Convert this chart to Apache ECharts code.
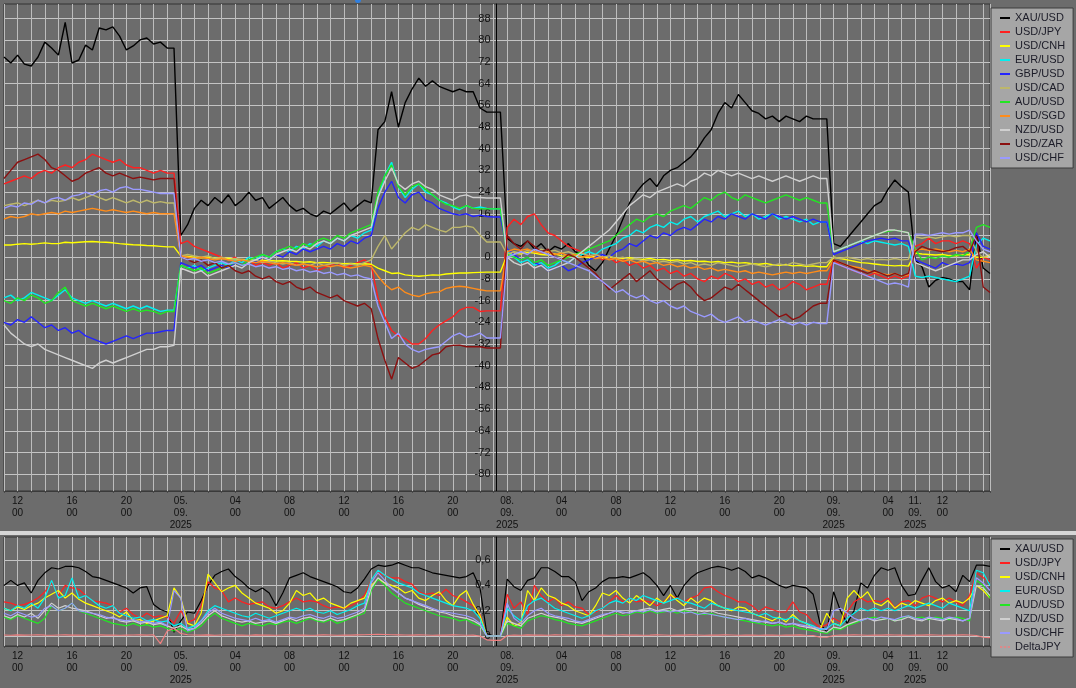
<!DOCTYPE html>
<html><head><meta charset="utf-8">
<script src="https://cdn.jsdelivr.net/npm/echarts@6/dist/echarts.min.js"></script>
<style>html,body{margin:0;padding:0;background:#6c6c6c;}#c{width:1076px;height:688px;}</style>
</head><body><div id="c"></div>
<script>
// ---- x axis: 146 half-hour slots (sessions 04.09 .. 11.09) ----
const slotCount = 146;
const tickIndex = [2,10,18,26,34,42,50,58,66,74,82,90,98,106,114,122,130,134,138];
const tickText = ['12\n00','16\n00','20\n00','05.\n09.\n2025','04\n00','08\n00','12\n00','16\n00','20\n00',
  '08.\n09.\n2025','04\n00','08\n00','12\n00','16\n00','20\n00','09.\n09.\n2025','04\n00','11.\n09.\n2025','12\n00'];
const topTicks = [88,80,72,64,56,48,40,32,24,16,8,0,-8,-16,-24,-32,-40,-48,-56,-64,-72,-80];
const bottomTicks = [0,0.2,0.4,0.6];

// ---- top panel series ----
const xau = [73.8,71.6,74.5,71.2,70.5,73.8,79.3,77.1,74.5,86.6,71.6,72.7,78.2,76.4,84.5,83.8,84.9,81.5,76.4,77.9,80.1,80.8,78.6,79.3,77.1,77.1,
 8,12,18,21,19,22,20,23,19,21,24,21,22,18,20,22,19,17,18,16,15,17,16,18,20,17,19,21,20,47,50,61,48,57,62,66,63,65,63,62,61,62,61,61,55,53.5,53.5,53.5,
 7,5,4,6,3,5,2,4,3,5,2,1,-3,-5,-2,3,8,14,20,24,27,29,26,30,32,33,35,37,40,44,47,53,57,55,60,57,54,53,51,52,50,52,51,50,52,51,51,51,
 5,4,7,10,13,16,19,20.5,25,28.5,26,24,
 -1,-3.5,-11,-8.5,-7.5,-8,-9,-9,-12,9,-4,-6];
const usdjpy = [27,28,29,30,29,31,32,31,33,34,33,35,36,38,37,36,35,36,34,33,33,32,31,32,31,31,
 5,6,4,3,2,1,0,-1,0,-2,-1,-3,-2,-3,-2,-4,-3,-2,-4,-3,-5,-4,-3,-2,-4,-3,-2,-1,-3,-15,-22,-27,-29,-30,-32,-32,-30,-27,-25,-23.5,-22,-19.5,-18.5,-18.5,-20,-19.8,-19.8,-19.8,
 11,14,12,15,16,12,9,8,6,4,3,2,0,1,-1,0,-2,-1,-3,-2,-4,-3,-5,-4,-6,-5,-7,-6,-8,-9,-7,-8,-6,-7,-9,-8,-10,-9,-11,-10,-12,-11,-9,-10,-12,-11,-10,-10,
 -1,-3,-4,-5,-6,-7,-6,-7,-8,-7,-8,-7,
 4,5,7,5,6,6,5,6,5,-4,0,-1];
const usdcnh = [4.5,4.5,4.8,5,4.8,5,5.3,5,5,5.5,5.3,5.5,5.7,5.8,5.6,5.5,5.3,5,4.8,4.6,4.5,4.3,4.2,4,3.8,3.8,
 0.5,0.3,0,-0.2,0,-0.3,-0.5,-0.4,-0.7,-0.8,-1,-0.9,-1.1,-1.2,-1.4,-1.3,-1.5,-1.6,-1.8,-1.7,-2,-1.9,-2.1,-2.2,-2.4,-2.3,-2.5,-2.4,-2.6,-4,-5,-6,-5.8,-6.5,-6.8,-7,-6.8,-6.5,-6.6,-6.2,-6,-5.8,-5.8,-5.7,-5.6,-5.5,-5.5,-5.5,
 1,1.5,1.2,1.8,1.5,1,0.8,1.2,0.5,0.3,0.6,0.2,0,0.3,-0.2,0,-0.3,-0.5,-0.2,-0.6,-0.8,-0.5,-1,-0.8,-1.2,-1,-1.4,-1.2,-1.6,-1.5,-1.8,-1.6,-2,-1.8,-2.2,-2,-2.4,-2.6,-2.3,-2.8,-3,-2.7,-3.2,-3,-3.4,-3.2,-3.5,-3.5,
 0,-0.5,-1,-1.5,-2,-2.2,-2.5,-2.8,-3,-3.2,-3,-3.3,
 1.5,1.2,1,0.8,1,0.6,0.5,0.8,1,0,0,0.5];
const eurusd = [-15,-14,-16,-15,-13,-14,-15,-16,-14,-12,-15,-16,-17,-16,-17,-18,-17,-18,-19,-18,-19,-18,-19,-20,-19.5,-19.5,
 -3,-4,-3,-5,-4,-3,-2,-3,-1,-2,0,-1,1,0,2,3,2,4,3,5,4,6,5,7,6,8,7,9,10,22,30,35,26,22,25,27,24,23,21,20,18.5,17.5,19,18,18.5,18,17.8,17.8,
 2,0,-2,-1,-3,-2,-4,-3,-1,-2,0,1,2,1,3,4,5,7,8,10,9,11,12,11,13,12,14,15,13,15,16,17,15,16,17,15,16,14,15,16,14,15,14,13,14,12,13,13,
 2,3,4,5,6,5,6,5.5,5,4.5,5,4,
 -7,-7.5,-7,-7.5,-8,-8.5,-9,-8,-7,4.5,7,6];
const gbpusd = [-24,-25,-23,-24,-22,-24,-26,-25,-27,-26,-28,-27,-29,-30,-31,-32,-31,-30,-29,-30,-29,-28,-28,-27.5,-27,-27,
 -2,-3,-4,-3,-5,-4,-3,-4,-2,-3,-1,-2,0,-1,1,0,2,1,3,2,3,4,3,5,4,6,5,7,8,18,24,28,22,20,23,24,21,20,18,17,16,15.5,16,15,15.5,15,14.8,14.8,
 3,1,-1,0,-2,-3,-5,-4,-3,-5,-4,-2,-1,0,1,0,2,3,5,4,6,8,7,9,8,10,11,10,12,14,13,15,14,16,15,14,16,15,14,16,15,14,15,14,13,14,13,13,
 1,2,3,4,5,6,6.5,7,6.5,7,6,6,
 -1,-2,-3,-4,-2,-3,-2.5,-3,-2,9,4,3];
const usdcad = [19,19.5,20,19,20,21,20,21,20.5,21,22,21,22,23,22,21,22,21,20,21,20,21,20,20.5,20,20,
 0.5,1,0.5,0,0.5,-0.5,0,-1,-0.5,-1,-1.5,-1,-2,-1.5,-2,-2.5,-2,-3,-2.5,-3,-2,-3,-2.5,-2,-3,-2.5,-3,-2,-1,4,8,3,6,9,11,10,12,11,10,9.3,11,11,11.5,11,8.2,5.6,5.6,5.6,
 1,2,1.5,2.5,2,3,2,2.5,1.5,2,1,1.5,0.5,1,0,0.5,-0.5,0,-1,-0.5,-1.5,-1,-2,-1.5,-2,-1.5,-2.5,-2,-3,-2.5,-3,-2,-2.5,-3,-3.5,-3,-2.5,-3,-3.5,-3,-2.5,-3,-2,-2.5,-3,-2.5,-2,-2,
 0,-0.5,0,-0.5,-1,-0.5,-1,-0.8,-1,-0.5,-1,-0.8,
 7.5,7,7.5,7,7.5,8,7.5,8,8,2,0,1];
const audusd = [-16,-17,-15,-16,-14,-15,-17,-16,-13,-11,-16,-17,-18,-17,-18,-19,-18,-19,-20,-19,-20,-19.5,-20,-21,-20,-20,
 -3,-4,-5,-4,-6,-5,-4,-3,-2,-3,-1,0,1,0,2,3,4,3,5,4,6,7,6,8,7,9,10,11,12,24,30,34,26,23,26,27,25,23,21,19.5,19,18,19,18,17.8,17.8,17.8,17.8,
 1,0,-1,0,-2,-1,-3,-2,-1,0,1,2,3,4,5,6,8,10,12,14,13,15,16,15,17,18,19,18,20,22,21,23,24,22,21,23,22,21,20,21,22,23,22,21,22,21,20,20,
 2,3,4,5,6,7,8,9,9.5,10,9.5,9,
 3,-1,0,-0.5,0.5,0,1,0.5,2,11,12,11];
const usdsgd = [14,15,14.5,15,16,15.5,16,16.5,16,17,16.5,17,17.5,18,17.5,17,17.5,17,16.5,17,16.5,16,16.5,16,16,16,
 0.5,0,-0.5,0,-0.5,-1,-0.5,-1,-1.5,-1,-1.5,-2,-1.5,-2,-2.5,-2,-2.5,-3,-2.5,-3,-3.5,-3,-3.5,-3,-3.5,-4,-3.5,-3,-3.5,-7,-10,-12,-11,-13,-14,-14.5,-13.5,-13,-12.8,-11.5,-11,-10.7,-11,-11.5,-12,-12.4,-12.4,-12.4,
 2,3,2.5,3,2,1.5,2,1,1.5,0.5,1,0,0.5,-0.5,0,-1,-0.5,-1.5,-1,-2,-1.5,-2.5,-2,-3,-2.5,-3.5,-3,-4,-3.5,-4.5,-4,-5,-4.5,-5,-5.5,-5,-6,-5.5,-6,-6.5,-6,-5.5,-6,-5.5,-6,-5.5,-5,-5,
 -1,-2,-3,-3.5,-4,-5,-5.5,-6,-6.5,-6,-7,-6.5,
 2.5,3,2.5,3,2.5,2,2.5,2,3,-1,-1.5,-2];
const nzdusd = [-25,-28,-30,-32,-33,-32,-34,-35,-36,-37,-38,-39,-40,-41,-39,-38,-39,-38,-37,-36,-35,-34,-34,-33,-33,-32.5,
 -4,-5,-6,-5,-7,-6,-5,-4,-3,-4,-2,-1,0,-1,1,2,3,2,4,3,5,6,5,7,6,8,9,10,11,22,28,33,27,25,27,28,26,25,23,22,21,22.5,23,22,22,21.8,21.8,21.8,
 0,-2,-3,-2,-4,-3,-5,-4,-3,-2,0,2,4,6,8,10,13,16,19,21,23,22,24,25,26,27,26,28,29,31,30,32,31,30,31,30,29,30,29,28,29,30,29,28,29,30,29,29,
 2,3,4,5,6,7,8,9,10,10,9.5,9,
 -2,-3,-4,-5,-4,-3,-2,-1,-1,1,2,0];
const usdzar = [29,32,35,36,37,38,36,33,32,30,28,29,31,32,33,31,30,31,30,29,29.5,29,28.5,29,29,29,
 0,-1,-2,-1,-3,-2,-4,-3,-5,-6,-5,-7,-8,-7,-9,-10,-9,-11,-12,-11,-13,-14,-15,-14,-16,-17,-18,-17,-19,-30,-38,-45,-37,-39,-41,-40,-38,-36,-35.4,-33,-32.5,-32.4,-33,-33,-33,-33.5,-33.5,-33.5,
 8,5,3,6,4,2,3,0,-1,1,0,-2,-4,-6,-9,-12,-10,-8,-6,-9,-7,-5,-8,-10,-12,-10,-9,-11,-14,-16,-15,-13,-11,-12,-10,-12,-14,-16,-18,-20,-22,-21,-23,-22,-20,-18,-17,-17,
 -1,-2,-3,-4,-5,-6,-5,-6,-7,-6,-7,-6,
 2,4,3,2.5,2,2.5,3.5,4,2,8,-11,-13];
const usdchf = [18,19,18.5,20,19.5,21,20,21.5,22,21,22.5,23,24,23,24.5,25,24,25.5,26,25,25,24.5,24,23.5,23.5,23.5,
 0,-1,-0.5,-1.5,-1,-2,-1.5,-2.5,-2,-3,-2.5,-3.5,-3,-4,-3.5,-4.5,-4,-5,-4.5,-5.5,-5,-6,-5.5,-6.5,-6,-7,-6.5,-7.5,-8,-18,-24,-30,-28,-32,-34,-35,-34,-33.5,-33,-31,-29,-28,-29.5,-29,-28,-29.8,-29.8,-29.8,
 0,1,2,1,3,2,1,0,-1,-2,-3,-4,-5,-7,-9,-11,-13,-12,-14,-15,-14,-16,-17,-16,-18,-19,-18,-20,-21,-22,-21,-23,-24,-23,-22,-24,-23,-24,-25,-24,-23,-24,-25,-24,-25,-24,-24.5,-24.5,
 -2,-3,-4,-5,-6,-7,-8,-9,-10,-9.5,-10,-11,
 8.5,8.5,8,8.5,9,8.5,9,9,10,6,3,2];

// ---- bottom panel series ----
const volXau = [0.40,0.44,0.40,0.42,0.34,0.44,0.50,0.54,0.53,0.55,0.55,0.54,0.51,0.47,0.46,0.44,0.42,0.40,0.38,0.34,0.38,0.39,0.25,0.21,0.19,0.03,
 0.12,0.19,0.18,0.28,0.40,0.48,0.51,0.53,0.47,0.43,0.38,0.35,0.38,0.34,0.24,0.34,0.46,0.48,0.50,0.47,0.45,0.43,0.41,0.39,0.35,0.34,0.38,0.45,0.53,0.56,0.55,0.56,0.58,0.56,0.54,0.54,0.52,0.50,0.49,0.48,0.47,0.46,0.47,0.50,0.38,0.02,0,0,
 0.45,0.39,0.36,0.44,0.46,0.54,0.54,0.51,0.47,0.47,0.43,0.28,0.35,0.38,0.43,0.46,0.46,0.47,0.46,0.48,0.50,0.46,0.40,0.32,0.40,0.30,0.40,0.46,0.50,0.52,0.54,0.55,0.54,0.52,0.54,0.51,0.46,0.48,0.46,0.43,0.40,0.38,0.40,0.39,0.38,0.33,0.10,0.03,
 0.35,0.20,0.10,0.20,0.42,0.38,0.48,0.54,0.52,0.54,0.40,0.32,
 0.33,0.44,0.54,0.43,0.38,0.40,0.35,0.48,0.43,0.56,0.56,0.55];
const volJpy = [0.27,0.26,0.24,0.25,0.27,0.30,0.35,0.42,0.32,0.40,0.38,0.37,0.32,0.28,0.27,0.26,0.24,0.19,0.22,0.17,0.14,0.18,0.15,0.16,0.15,0.10,
 0.20,0.11,0.13,0.24,0.43,0.38,0.36,0.27,0.30,0.27,0.25,0.26,0.27,0.23,0.22,0.24,0.27,0.30,0.27,0.28,0.27,0.24,0.22,0.23,0.22,0.24,0.27,0.32,0.44,0.50,0.48,0.46,0.46,0.43,0.41,0.35,0.33,0.34,0.32,0.37,0.32,0.30,0.27,0.24,0.17,0,0,0,
 0.33,0.22,0.27,0.17,0.40,0.32,0.27,0.30,0.24,0.27,0.23,0.22,0.17,0.19,0.22,0.27,0.32,0.27,0.30,0.27,0.28,0.27,0.24,0.27,0.32,0.30,0.27,0.30,0.32,0.38,0.39,0.35,0.32,0.30,0.27,0.27,0.24,0.19,0.23,0.21,0.19,0.19,0.27,0.19,0.17,0.11,0.07,0.09,
 0.14,0.11,0.19,0.27,0.30,0.27,0.28,0.27,0.30,0.22,0.27,0.28,
 0.24,0.30,0.32,0.30,0.27,0.30,0.27,0.24,0.32,0.50,0.46,0.43];
const volCnh = [0.22,0.20,0.23,0.21,0.24,0.26,0.30,0.33,0.36,0.30,0.34,0.29,0.26,0.24,0.22,0.20,0.18,0.15,0.19,0.12,0.13,0.10,0.12,0.14,0.16,0.38,
 0.30,0.10,0.08,0.18,0.49,0.42,0.35,0.38,0.40,0.34,0.30,0.26,0.24,0.22,0.18,0.20,0.26,0.36,0.32,0.34,0.28,0.30,0.26,0.24,0.22,0.26,0.28,0.30,0.40,0.45,0.42,0.40,0.38,0.34,0.36,0.30,0.28,0.32,0.35,0.28,0.24,0.32,0.36,0.25,0.16,0,0,0,
 0.15,0.08,0.10,0.36,0.28,0.38,0.32,0.30,0.26,0.24,0.20,0.18,0.16,0.24,0.34,0.32,0.36,0.30,0.26,0.32,0.28,0.24,0.30,0.26,0.33,0.28,0.24,0.30,0.26,0.30,0.28,0.24,0.22,0.20,0.23,0.22,0.18,0.16,0.14,0.12,0.15,0.11,0.17,0.12,0.10,0.06,0.05,0.18,
 0.10,0.08,0.30,0.36,0.30,0.35,0.26,0.24,0.28,0.22,0.26,0.24,
 0.28,0.26,0.24,0.28,0.30,0.26,0.28,0.26,0.30,0.40,0.36,0.30];
const volEur = [0.22,0.20,0.24,0.22,0.26,0.22,0.30,0.44,0.30,0.32,0.46,0.30,0.32,0.28,0.24,0.22,0.24,0.18,0.16,0.14,0.15,0.12,0.13,0.11,0.12,0.08,
 0.10,0.06,0.08,0.12,0.20,0.24,0.22,0.20,0.18,0.16,0.15,0.18,0.16,0.14,0.16,0.18,0.20,0.22,0.20,0.22,0.19,0.18,0.20,0.17,0.19,0.21,0.24,0.26,0.44,0.52,0.48,0.45,0.42,0.40,0.38,0.34,0.32,0.30,0.28,0.26,0.24,0.23,0.22,0.20,0.14,0,0,0,
 0.22,0.16,0.12,0.24,0.28,0.30,0.26,0.22,0.20,0.18,0.16,0.14,0.16,0.20,0.22,0.26,0.28,0.26,0.30,0.28,0.32,0.30,0.28,0.26,0.28,0.30,0.27,0.26,0.24,0.22,0.26,0.24,0.22,0.21,0.20,0.19,0.18,0.16,0.18,0.15,0.14,0.13,0.15,0.12,0.10,0.08,0.05,0.06,
 0.10,0.08,0.14,0.18,0.22,0.20,0.22,0.20,0.22,0.20,0.22,0.24,
 0.22,0.24,0.26,0.24,0.22,0.26,0.24,0.22,0.20,0.52,0.50,0.40];
const volAud = [0.15,0.13,0.16,0.14,0.12,0.10,0.14,0.24,0.20,0.22,0.26,0.20,0.18,0.16,0.14,0.12,0.10,0.09,0.08,0.10,0.08,0.09,0.07,0.08,0.06,0.04,
 0.06,0.03,0.05,0.08,0.14,0.18,0.14,0.12,0.10,0.08,0.10,0.09,0.08,0.10,0.09,0.11,0.12,0.10,0.12,0.14,0.12,0.11,0.13,0.10,0.12,0.14,0.16,0.18,0.36,0.45,0.40,0.34,0.30,0.26,0.24,0.22,0.20,0.18,0.16,0.15,0.14,0.12,0.13,0.10,0.08,0,0,0,
 0.10,0.08,0.06,0.12,0.14,0.16,0.15,0.13,0.12,0.10,0.09,0.08,0.10,0.12,0.14,0.16,0.18,0.16,0.17,0.19,0.18,0.20,0.18,0.19,0.20,0.18,0.20,0.19,0.18,0.17,0.18,0.16,0.15,0.14,0.13,0.12,0.11,0.10,0.09,0.08,0.09,0.07,0.08,0.06,0.05,0.04,0.03,0.02,
 0.06,0.05,0.08,0.10,0.12,0.14,0.15,0.13,0.14,0.12,0.14,0.16,
 0.14,0.15,0.13,0.15,0.14,0.13,0.15,0.14,0.12,0.44,0.40,0.30];
const volNzd = [0.16,0.14,0.17,0.15,0.18,0.14,0.20,0.26,0.22,0.24,0.22,0.21,0.20,0.18,0.16,0.14,0.15,0.12,0.11,0.12,0.10,0.11,0.09,0.10,0.08,0.06,
 0.08,0.05,0.06,0.10,0.16,0.20,0.16,0.14,0.12,0.11,0.12,0.10,0.11,0.12,0.10,0.12,0.14,0.12,0.14,0.15,0.13,0.12,0.14,0.12,0.13,0.15,0.17,0.20,0.38,0.46,0.42,0.38,0.34,0.30,0.28,0.25,0.23,0.21,0.19,0.18,0.16,0.15,0.14,0.12,0.09,0,0,0,
 0.12,0.10,0.08,0.14,0.16,0.18,0.16,0.15,0.14,0.12,0.11,0.10,0.12,0.14,0.16,0.18,0.20,0.18,0.19,0.20,0.21,0.22,0.20,0.21,0.22,0.20,0.21,0.22,0.20,0.19,0.20,0.18,0.17,0.16,0.15,0.14,0.13,0.12,0.11,0.10,0.11,0.09,0.10,0.08,0.07,0.06,0.04,0.03,
 0.07,0.06,0.09,0.11,0.13,0.14,0.12,0.13,0.14,0.12,0.13,0.15,
 0.13,0.12,0.14,0.13,0.12,0.14,0.13,0.12,0.14,0.40,0.38,0.32];
const volChf = [0.18,0.16,0.19,0.17,0.15,0.16,0.22,0.24,0.20,0.22,0.26,0.20,0.19,0.18,0.17,0.15,0.14,0.13,0.12,0.13,0.11,0.12,0.10,0.11,0.08,0.36,
 0.30,0.04,0.06,0.12,0.18,0.22,0.18,0.16,0.14,0.13,0.12,0.14,0.12,0.13,0.11,0.13,0.15,0.14,0.16,0.17,0.15,0.14,0.16,0.14,0.15,0.17,0.19,0.22,0.42,0.50,0.44,0.38,0.34,0.30,0.28,0.26,0.24,0.22,0.20,0.19,0.18,0.17,0.16,0.14,0.10,0,0,0,
 0.26,0.14,0.10,0.16,0.20,0.22,0.18,0.16,0.15,0.14,0.12,0.11,0.13,0.15,0.17,0.18,0.20,0.19,0.18,0.20,0.19,0.21,0.19,0.20,0.19,0.20,0.18,0.19,0.17,0.18,0.17,0.16,0.15,0.14,0.13,0.14,0.12,0.11,0.12,0.10,0.11,0.09,0.10,0.09,0.08,0.07,0.06,0.05,
 0.20,0.22,0.18,0.14,0.12,0.14,0.13,0.15,0.14,0.13,0.15,0.16,
 0.14,0.13,0.15,0.14,0.13,0.15,0.14,0.12,0.14,0.46,0.42,0.36];
const deltaJpy = [0.008,0.006,0.009,0.007,0.008,0.01,0.007,0.006,0.008,0.009,0.007,0.008,0.006,0.008,0.009,0.007,0.008,0.006,0.007,0.008,0.009,0.007,0.01,-0.06,0.04,0.06,
 0.02,0.01,0.008,0.007,0.009,0.006,0.008,0.01,0.007,0.008,0.006,0.009,0.007,0.008,0.006,0.008,0.009,0.007,0.008,0.006,0.007,0.009,0.008,0.006,0.008,0.007,0.009,0.01,0.012,0.014,0.012,0.01,0.009,0.008,0.007,0.009,0.008,0.006,0.008,0.007,0.009,0.008,0.006,0.007,0,-0.03,-0.035,-0.035,
 0.004,0.008,0.006,0.009,0.007,0.008,0.006,0.009,0.008,0.007,0.006,0.008,0.009,0.007,0.008,0.006,0.008,0.009,0.007,0.008,0.006,0.007,0.009,0.008,0.006,0.008,0.007,0.009,0.008,0.006,0.008,0.007,0.009,0.008,0.006,0.008,0.007,0.006,0.008,0.007,0.006,0.008,0.007,0.009,0.006,0.004,-0.01,-0.01,
 0.004,0.008,0.007,0.009,0.008,0.006,0.008,0.007,0.009,0.008,0.007,0.006,
 0.008,0.007,0.009,0.008,0.006,0.008,0.007,0.009,0.008,0.004,-0.01,-0.012];

const topSeries = [
  ['XAU/USD', xau, '#000000'], ['USD/JPY', usdjpy, '#ff2020'], ['USD/CNH', usdcnh, '#ffff00'],
  ['EUR/USD', eurusd, '#00f0f0'], ['GBP/USD', gbpusd, '#2424ff'], ['USD/CAD', usdcad, '#bdb76b'],
  ['AUD/USD', audusd, '#22e622'], ['USD/SGD', usdsgd, '#ff8c1a'], ['NZD/USD', nzdusd, '#d0d0d0'],
  ['USD/ZAR', usdzar, '#8b1010'], ['USD/CHF', usdchf, '#9a9aff']];
const bottomSeries = [
  ['XAU/USD', volXau, '#000000'], ['USD/JPY', volJpy, '#ff2020'], ['USD/CNH', volCnh, '#ffff00'],
  ['EUR/USD', volEur, '#00f0f0'], ['AUD/USD', volAud, '#22e622'], ['NZD/USD', volNzd, '#d0d0d0'],
  ['USD/CHF', volChf, '#9a9aff'], ['DeltaJPY', deltaJpy, '#f08080']];

const categories = Array.from({length: slotCount}, (_, i) => 's' + i);
const labelMap = {};
tickIndex.forEach((ix, k) => { labelMap[ix] = tickText[k]; });

const FONT = 'Liberation Sans, Arial, sans-serif';
const DASH_ICON = 'path://M0,0h3v2h-3z M5,0h3v2h-3z M10,0h3v2h-3z';
function xAxisFor(gi) {
  return {
    type: 'category', gridIndex: gi, data: categories, boundaryGap: false,
    axisLine: {show: true, onZero: false, lineStyle: {color: '#3a3a3a', width: 1}},
    axisTick: {show: true, interval: 1, length: 2, lineStyle: {color: '#4a4a4a'}},
    axisLabel: {interval: 0, formatter: (v, i) => labelMap[i] || '',
      color: '#111', fontSize: 10, lineHeight: 12, margin: 4, fontFamily: FONT},
    splitLine: {show: true, interval: 1, lineStyle: {color: '#bdbdbd', width: 1}}
  };
}
function yAxisFor(gi, mn, mx, ticks, fmt) {
  return {
    type: 'value', gridIndex: gi, min: mn, max: mx, position: 'left', offset: -492.5,
    axisLine: {show: true, onZero: false, lineStyle: {color: '#000', width: 1}},
    axisTick: {show: false, customValues: ticks},
    axisLabel: {customValues: ticks, color: '#111', fontSize: 11, margin: 6, fontFamily: FONT, formatter: fmt},
    splitLine: {show: true, lineStyle: {color: '#c4c4c4', width: 1}}
  };
}
function legendFor(names, top) {
  return {
    data: names.map(n => n === 'DeltaJPY' ? {name: n, icon: DASH_ICON} : n),
    orient: 'vertical', left: 991, top: top, width: 70,
    icon: 'rect', itemWidth: 10, itemHeight: 2, itemGap: 0,
    padding: [3, 8, 3, 9], backgroundColor: '#a6a6a6', borderColor: '#3c3c3c', borderWidth: 1,
    textStyle: {color: '#1c1c28', fontSize: 11, lineHeight: 14, fontFamily: FONT}
  };
}

const series = [];
topSeries.forEach(([n, d, c]) => series.push({name: n, type: 'line', xAxisIndex: 0, yAxisIndex: 0, data: d,
  showSymbol: false, symbol: 'none', color: c, lineStyle: {color: c, width: 1.4}, silent: true}));
bottomSeries.forEach(([n, d, c]) => series.push({name: n, type: 'line', xAxisIndex: 1, yAxisIndex: 1, data: d,
  showSymbol: false, symbol: 'none', color: c, lineStyle: {color: c, width: 1.2}, silent: true}));

const chart = echarts.init(document.getElementById('c'), null, {renderer: 'canvas'});
chart.setOption({
  backgroundColor: '#6c6c6c',
  animation: false,
  grid: [
    {left: 4, right: 86, top: 4, height: 487, show: true, borderColor: '#333', borderWidth: 1, backgroundColor: 'transparent', containLabel: false, outerBoundsMode: 'none'},
    {left: 4, right: 86, top: 537, height: 109, show: true, borderColor: '#333', borderWidth: 1, backgroundColor: 'transparent', containLabel: false, outerBoundsMode: 'none'}
  ],
  xAxis: [xAxisFor(0), xAxisFor(1)],
  yAxis: [
    yAxisFor(0, -86.2, 93.35, topTicks, (v) => String(v)),
    yAxisFor(1, -0.079, 0.783, bottomTicks, (v) => String(+v.toFixed(1)).replace('.', ','))
  ],
  legend: [legendFor(topSeries.map(s => s[0]), 8), legendFor(bottomSeries.map(s => s[0]), 539)],
  graphic: [
    {type: 'rect', shape: {x: 0, y: 531, width: 1076, height: 4}, style: {fill: '#d6d6d6'}, silent: true},
    {type: 'circle', shape: {cx: 358, cy: 0, r: 3}, style: {fill: '#2f7fe0'}, silent: true}
  ],
  series: series
});
</script></body></html>
